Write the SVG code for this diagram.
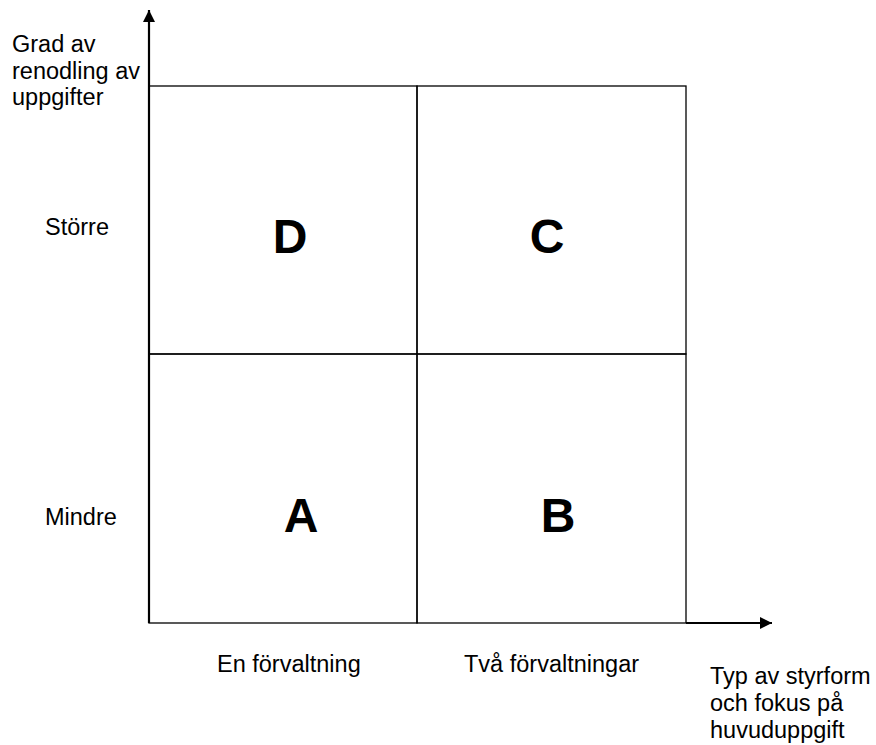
<svg xmlns="http://www.w3.org/2000/svg" width="876" height="745" viewBox="0 0 876 745">
<style>
.lbl{font-family:"Liberation Sans",Arial,sans-serif;font-size:23.5px;fill:#000}
.big{font-family:"Liberation Sans",Arial,sans-serif;font-size:48px;font-weight:bold;fill:#000;text-anchor:middle}
.grid{fill:none;stroke:#000;stroke-width:1.3}
.axis{stroke:#000;stroke-width:2.2;fill:none}
</style>
<defs>
<marker id="ah" markerUnits="userSpaceOnUse" markerWidth="14" markerHeight="14" refX="12" refY="6" orient="auto">
<path d="M0,0 L12,6 L0,12 Z" fill="#000"/>
</marker>
</defs>
<rect width="876" height="745" fill="#fff"/>
<g id="cell-D"><rect class="grid" x="149" y="86" width="268" height="268"/><text class="big" x="290" y="253">D</text></g>
<g id="cell-C"><rect class="grid" x="417" y="86" width="269" height="268"/><text class="big" x="547" y="253">C</text></g>
<g id="cell-A"><rect class="grid" x="149" y="354" width="268" height="269"/><text class="big" x="301" y="532">A</text></g>
<g id="cell-B"><rect class="grid" x="417" y="354" width="269" height="269"/><text class="big" x="558" y="532">B</text></g>
<g id="connectors">
<line class="axis" x1="149" y1="623" x2="149" y2="10" marker-end="url(#ah)"/>
<line class="axis" x1="686" y1="623" x2="772" y2="623" marker-end="url(#ah)"/>
</g>
<g id="y-axis-label"><text class="lbl"><tspan x="12" y="52">Grad av</tspan><tspan x="12" y="78.5">renodling av</tspan><tspan x="12" y="105">uppgifter</tspan></text></g>
<g id="label-storre"><text class="lbl" x="45" y="235">Större</text></g>
<g id="label-mindre"><text class="lbl" x="45" y="525">Mindre</text></g>
<g id="label-en"><text class="lbl" x="217" y="672">En förvaltning</text></g>
<g id="label-tva"><text class="lbl" x="464" y="672">Två förvaltningar</text></g>
<g id="x-axis-label"><text class="lbl"><tspan x="710" y="684">Typ av styrform</tspan><tspan x="710" y="711">och fokus på</tspan><tspan x="710" y="738">huvuduppgift</tspan></text></g>
</svg>
